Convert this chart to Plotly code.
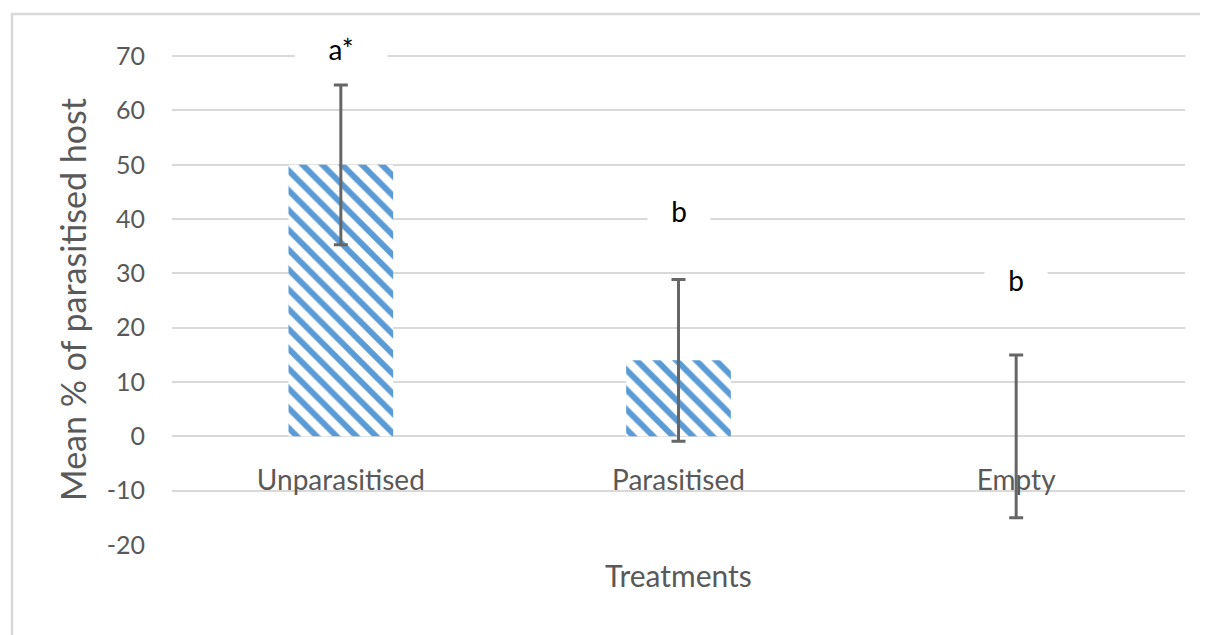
import plotly.graph_objects as go

categories = ["Unparasitised", "Parasitised", "Empty"]
means = [50, 14, 0]
errors = [14.7, 14.9, 15]
letters = ["a*", "b", "b"]
letter_anchor_y = [70, 40, 30]
letter_pix_shift = [7, 8, -7]
y_ticks = [-20, -10, 0, 10, 20, 30, 40, 50, 60, 70]
y_tick_labels = [str(v) for v in y_ticks]

BLUE = "#5B9BD5"
GRAY_TXT = "#595959"
GRID = "#D9D9D9"
FONT = "Lato"

# page has an 8px body margin; margins below are compensated for it
TOP_PAD = 0.4  # extra range above 70 so its gridline is drawn
L, T, PW, PH = 164, 46, 1013, 491
W, H = 1208, 635
R = W - L - PW
B = H - T - PH
y_lo, y_hi = y_ticks[0], y_ticks[-1] + TOP_PAD

fig = go.Figure()
fig.add_trace(go.Bar(
    x=categories, y=means,
    marker=dict(color="white", line=dict(width=0),
                pattern=dict(shape="\\", fgcolor=BLUE, bgcolor="white",
                             size=14, solidity=0.42, fillmode="replace")),
    error_y=dict(type="data", array=errors, visible=True,
                 color="#666666", thickness=3, width=7),
    width=0.31,
))

for c, t, yv, sh in zip(categories, letters, letter_anchor_y, letter_pix_shift):
    fig.add_annotation(x=c, y=yv, text=t, showarrow=False, yshift=sh,
                       font=dict(family=FONT, size=28, color="black"),
                       bgcolor="white", width=30 + 30 * len(t), height=30)

fig.add_annotation(xref="paper", yref="paper", x=0.5, y=-30 / PH,
                   text="Treatments", showarrow=False, yanchor="middle",
                   font=dict(family=FONT, size=30, color=GRAY_TXT))

# outer chart border (top and left visible, rest cropped)
fig.add_shape(type="rect", xref="paper", yref="paper",
              x0=(4 - L) / PW, y0=-0.3, x1=1.1, y1=(T + PH - 6) / PH,
              line=dict(color="#D9D9D9", width=2.5), layer="below")

y0_frac = (0 - y_lo) / (y_hi - y_lo)

fig.update_layout(
    width=W, height=H,
    margin=dict(l=L, r=R, t=T, b=B),
    plot_bgcolor="white", paper_bgcolor="white",
    showlegend=False,
    xaxis=dict(anchor="free", position=y0_frac, showgrid=False,
               showline=False, ticks="", zeroline=False,
               tickfont=dict(family=FONT, size=28, color=GRAY_TXT),
               ticklabelstandoff=25),
    yaxis=dict(range=[y_lo, y_hi], tickvals=y_ticks,
               ticktext=y_tick_labels,
               showgrid=True, gridcolor=GRID, gridwidth=2,
               zeroline=True, zerolinecolor=GRID, zerolinewidth=2,
               showline=False, ticks="",
               tickfont=dict(family=FONT, size=25, color=GRAY_TXT),
               ticklabelstandoff=26,
               title=dict(text="Mean % of parasitised host",
                          font=dict(family=FONT, size=34, color=GRAY_TXT),
                          standoff=9)),
)

fig.write_html("out.html")
